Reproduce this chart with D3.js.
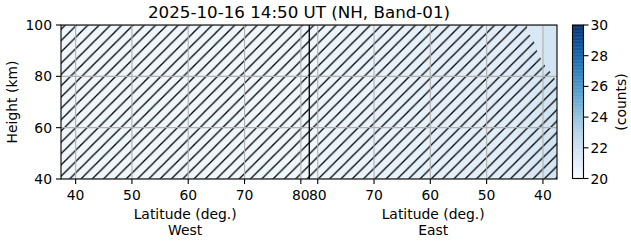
<!DOCTYPE html>
<html>
<head>
<meta charset="utf-8">
<script src="https://cdn.jsdelivr.net/npm/d3@7"></script>
<style>
    body { margin: 0; background: #fff; }
    svg { font-family: "DejaVu Sans", sans-serif; display: block; }
</style>
</head>
<body>
<div id="chart"><svg width="631" height="243"></svg></div>
<script>
// values
const titleText = "2025-10-16 14:50 UT (NH, Band-01)";
const heightTicks = [40, 60, 80, 100];
const latTicks = [40, 50, 60, 70, 80];
const colorTicks = [20, 22, 24, 26, 28, 30];

// west half: latitude goes up left to right, east half: down
const westEdges = [37.4, 40, 45, 50, 55, 60, 65, 70, 75, 80, 81.5];
const westValues = [20.4, 20.4, 20.4, 20.4, 20.4, 20.4, 20.4, 20.4, 20.4, 20.4];
const eastEdges = [81.5, 80, 75, 70, 65, 60, 55, 50, 45, 42.5, 40, 37.5];
const eastValues = [20.4, 20.5, 20.6, 20.7, 20.8, 20.9, 21.0, 21.1, 21.3, 21.5, 21.8];

// edge of the part without hatching (east side, top right)
const clearLat = [42.8, 42.8, 41.8, 40.9, 39.6, 38.4, 37.5];
const clearHeight = [100, 97, 95, 89, 84, 81, 77.5];

const svg = d3.select("#chart svg");
const plotLeft = 61, plotRight = 557, plotTop = 25, plotBottom = 179;
const westStart = westEdges[0];
const centerLat = westEdges[westEdges.length - 1];
const eastEnd = eastEdges[eastEdges.length - 1];
const fs = "13.9px";

function uWest(lat) { return lat - westStart; }
function uEast(lat) { return (centerLat - westStart) + (centerLat - lat); }

const x = d3.scaleLinear().domain([0, uEast(eastEnd)]).range([plotLeft, plotRight]);
const y = d3.scaleLinear().domain([40, 100]).range([plotBottom, plotTop]);
const color = d3.scaleSequential(d3.interpolateBlues).domain([20, 30]);

const defs = svg.append("defs");
const s = 11.3;
defs.append("pattern")
    .attr("id", "hatch")
    .attr("patternUnits", "userSpaceOnUse")
    .attr("width", s)
    .attr("height", s)
    .append("path")
    .attr("d", `M-1,1 l2,-2 M0,${s} l${s},${-s} M${s - 1},${s + 1} l2,-2`)
    .attr("stroke", "black")
    .attr("stroke-width", 1.3);

defs.append("clipPath").attr("id", "plotClip")
    .append("rect")
    .attr("x", plotLeft).attr("y", plotTop)
    .attr("width", plotRight - plotLeft).attr("height", plotBottom - plotTop);

function drawCells() {
    const g = svg.append("g").attr("clip-path", "url(#plotClip)");
    for (let i = 0; i < westValues.length; i++) {
        let x0 = x(uWest(westEdges[i]));
        let x1 = x(uWest(westEdges[i + 1]));
        g.append("rect")
            .attr("x", x0).attr("y", plotTop)
            .attr("width", x1 - x0 + 0.5).attr("height", plotBottom - plotTop)
            .attr("fill", color(westValues[i]));
    }
    for (let i = 0; i < eastValues.length; i++) {
        let x0 = x(uEast(eastEdges[i]));
        let x1 = x(uEast(eastEdges[i + 1]));
        g.append("rect")
            .attr("x", x0).attr("y", plotTop)
            .attr("width", x1 - x0 + 0.5).attr("height", plotBottom - plotTop)
            .attr("fill", color(eastValues[i]));
    }

    // hatched area = everything except the clear corner
    let pts = [[0, 40], [0, 100]];
    for (let i = 0; i < clearLat.length; i++) {
        pts.push([uEast(clearLat[i]), clearHeight[i]]);
    }
    pts.push([uEast(eastEnd), 40]);
    const line = d3.line().x(d => x(d[0])).y(d => y(d[1]));
    g.append("path")
        .attr("d", line(pts) + "Z")
        .attr("fill", "url(#hatch)");
}

function drawGrid() {
    const g = svg.append("g").attr("clip-path", "url(#plotClip)");
    for (let i = 0; i < latTicks.length; i++) {
        [x(uWest(latTicks[i])), x(uEast(latTicks[i]))].forEach(px => {
            g.append("line")
                .attr("x1", px).attr("x2", px)
                .attr("y1", plotTop).attr("y2", plotBottom)
                .attr("stroke", "#b0b0b0")
                .attr("stroke-width", 1.1);
        });
    }
    for (let i = 0; i < heightTicks.length; i++) {
        g.append("line")
            .attr("x1", plotLeft).attr("x2", plotRight)
            .attr("y1", y(heightTicks[i])).attr("y2", y(heightTicks[i]))
            .attr("stroke", "#b0b0b0")
            .attr("stroke-width", 1.1);
    }
    // divider between west and east
    svg.append("line")
        .attr("x1", x(uWest(centerLat))).attr("x2", x(uWest(centerLat)))
        .attr("y1", plotTop).attr("y2", plotBottom)
        .attr("stroke", "black")
        .attr("stroke-width", 1.3);
}

function drawAxes() {
    svg.append("rect")
        .attr("x", plotLeft).attr("y", plotTop)
        .attr("width", plotRight - plotLeft).attr("height", plotBottom - plotTop)
        .attr("fill", "none")
        .attr("stroke", "black")
        .attr("stroke-width", 1.1);

    // bottom ticks, both halves
    for (let i = 0; i < latTicks.length; i++) {
        [x(uWest(latTicks[i])), x(uEast(latTicks[i]))].forEach(px => {
            svg.append("line")
                .attr("x1", px).attr("x2", px)
                .attr("y1", plotBottom).attr("y2", plotBottom + 5)
                .attr("stroke", "black").attr("stroke-width", 1.1);
            svg.append("text")
                .attr("x", px).attr("y", plotBottom + 21)
                .attr("text-anchor", "middle")
                .attr("font-size", fs)
                .text(latTicks[i]);
        });
    }

    // left ticks
    for (let i = 0; i < heightTicks.length; i++) {
        let py = y(heightTicks[i]);
        svg.append("line")
            .attr("x1", plotLeft - 5).attr("x2", plotLeft)
            .attr("y1", py).attr("y2", py)
            .attr("stroke", "black").attr("stroke-width", 1.1);
        svg.append("text")
            .attr("x", plotLeft - 9).attr("y", py)
            .attr("text-anchor", "end")
            .attr("dominant-baseline", "central")
            .attr("font-size", fs)
            .text(heightTicks[i]);
    }

    const westMid = (x(0) + x(uWest(centerLat))) / 2;
    const eastMid = (x(uWest(centerLat)) + x(uEast(eastEnd))) / 2;
    [[westMid, "West"], [eastMid, "East"]].forEach(d => {
        svg.append("text")
            .attr("x", d[0]).attr("y", 219)
            .attr("text-anchor", "middle")
            .attr("font-size", fs)
            .text("Latitude (deg.)");
        svg.append("text")
            .attr("x", d[0]).attr("y", 235)
            .attr("text-anchor", "middle")
            .attr("font-size", fs)
            .text(d[1]);
    });

    svg.append("text")
        .attr("transform", `translate(17, ${(plotTop + plotBottom) / 2}) rotate(-90)`)
        .attr("text-anchor", "middle")
        .attr("font-size", fs)
        .text("Height (km)");

    svg.append("text")
        .attr("x", 299).attr("y", 18)
        .attr("text-anchor", "middle")
        .attr("font-size", "16.7px")
        .text(titleText);
}

function drawColorbar() {
    const cx = 572.5, cw = 11;
    const cy = d3.scaleLinear().domain([20, 30]).range([178.5, 25]);
    const steps = d3.range(20, 30, 0.05);
    for (let i = 0; i < steps.length; i++) {
        svg.append("rect")
            .attr("x", cx)
            .attr("y", cy(steps[i] + 0.05))
            .attr("width", cw)
            .attr("height", Math.abs(cy(steps[i]) - cy(steps[i] + 0.05)) + 0.4)
            .attr("fill", color(steps[i] + 0.025));
    }
    svg.append("rect")
        .attr("x", cx).attr("y", cy(30))
        .attr("width", cw).attr("height", cy(20) - cy(30))
        .attr("fill", "none")
        .attr("stroke", "black")
        .attr("stroke-width", 1.1);
    for (let i = 0; i < colorTicks.length; i++) {
        let py = cy(colorTicks[i]);
        svg.append("line")
            .attr("x1", cx + cw).attr("x2", cx + cw + 5)
            .attr("y1", py).attr("y2", py)
            .attr("stroke", "black").attr("stroke-width", 1.1);
        svg.append("text")
            .attr("x", cx + cw + 7).attr("y", py)
            .attr("dominant-baseline", "central")
            .attr("font-size", fs)
            .text(colorTicks[i]);
    }
    svg.append("text")
        .attr("transform", `translate(626, ${(plotTop + plotBottom) / 2}) rotate(-90)`)
        .attr("text-anchor", "middle")
        .attr("font-size", fs)
        .text("(counts)");
}

drawCells();
drawGrid();
drawAxes();
drawColorbar();
</script>
</body>
</html>
